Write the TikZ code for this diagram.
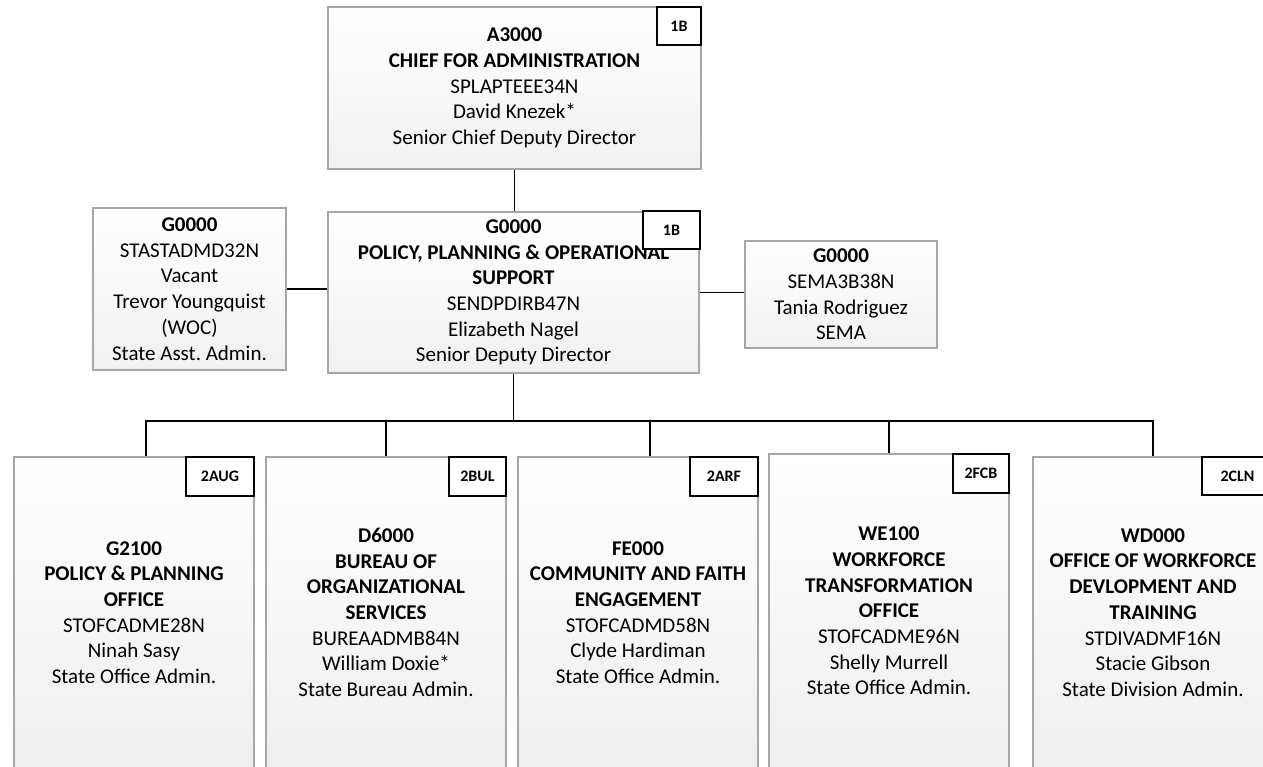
\documentclass[tikz,border=0pt]{standalone}
\usepackage{fontspec}
\setmainfont{Carlito}
\frenchspacing
\begin{document}
\begin{tikzpicture}[x=1pt,y=-1pt,
  box/.style={draw=gray!70, line width=1.1pt, top color=white, bottom color=gray!11,
    inner sep=0pt, align=center, font=\fontsize{21}{25.7}\selectfont},
  lowbox/.style={box, bottom color=gray!13},
  badge/.style={draw=black, line width=1.6pt, fill=white, inner sep=0pt,
    font=\fontsize{16}{19}\selectfont\bfseries},
  conn/.style={draw=black, line width=1.6pt}]
\useasboundingbox (0,0) rectangle (1263,767);
\clip (0,0) rectangle (1263,767);

% top
\node[box, minimum width=373pt, minimum height=162pt] (top) at (514.5,88)
  {\textbf{A3000}\\ \textbf{CHIEF FOR ADMINISTRATION}\\ SPLAPTEEE34N\\ David Knezek*\\ Senior Chief Deputy Director};
\node[badge, minimum width=44pt, minimum height=38pt] (btop) at (679,26) {1B};

% middle
\node[box, minimum width=371pt, minimum height=161pt] (mid) at (513.5,292.5)
  {\textbf{G0000}\\ \textbf{POLICY, PLANNING \& OPERATIONAL}\\ \textbf{SUPPORT}\\ SENDPDIRB47N\\ Elizabeth Nagel\\ Senior Deputy Director};
\node[badge, minimum width=57pt, minimum height=38pt] (bmid) at (671.5,230) {1B};

% left
\node[box, minimum width=193pt, minimum height=162pt] (left) at (189.5,289)
  {\textbf{G0000}\\ STASTADMD32N\\ Vacant\\ Trevor Youngquist\\ (WOC)\\ State Asst. Admin.};

% right
\node[box, minimum width=192pt, minimum height=107pt] (right) at (841,294.5)
  {\textbf{G0000}\\ SEMA3B38N\\ Tania Rodriguez\\ SEMA};

% bottom row
\node[lowbox, minimum width=240pt, minimum height=311pt] (b1) at (134,612.5)
  {\textbf{G2100}\\ \textbf{POLICY \& PLANNING}\\ \textbf{OFFICE}\\ STOFCADME28N\\ Ninah Sasy\\ State Office Admin.};
\node[badge, minimum width=68pt, minimum height=39pt] (bb1) at (220,476.5) {2AUG};

\node[lowbox, minimum width=240pt, minimum height=311pt] (b2) at (386,612.5)
  {\textbf{D6000}\\ \textbf{BUREAU OF}\\ \textbf{ORGANIZATIONAL}\\ \textbf{SERVICES}\\ BUREAADMB84N\\ William Doxie*\\ State Bureau Admin.};
\node[badge, minimum width=57pt, minimum height=39pt] (bb2) at (477.5,476.5) {2BUL};

\node[lowbox, minimum width=240pt, minimum height=311pt] (b3) at (638,612.5)
  {\textbf{FE000}\\ \textbf{COMMUNITY AND FAITH}\\ \textbf{ENGAGEMENT}\\ STOFCADMD58N\\ Clyde Hardiman\\ State Office Admin.};
\node[badge, minimum width=68pt, minimum height=39pt] (bb3) at (724,476.5) {2ARF};

\node[lowbox, minimum width=240pt, minimum height=314pt] (b4) at (889,611)
  {\textbf{WE100}\\ \textbf{WORKFORCE}\\ \textbf{TRANSFORMATION}\\ \textbf{OFFICE}\\ STOFCADME96N\\ Shelly Murrell\\ State Office Admin.};
\node[badge, minimum width=56pt, minimum height=39pt] (bb4) at (981,473.5) {2FCB};

\node[lowbox, minimum width=240pt, minimum height=311pt] (b5) at (1153,612.5)
  {\textbf{WD000}\\ \textbf{OFFICE OF WORKFORCE}\\ \textbf{DEVLOPMENT AND}\\ \textbf{TRAINING}\\ STDIVADMF16N\\ Stacie Gibson\\ State Division Admin.};
\node[badge, minimum width=71pt, minimum height=38pt] (bb5) at (1237.5,476) {2CLN};

% connectors
\draw[conn] (top.south) -- (top.south |- mid.north);
\draw[conn] (left.east) -- (left.east -| mid.west);
\draw[conn] (mid.east) -- (mid.east -| right.west);

\coordinate (bus1) at (146,421);
\coordinate (bus2) at (386,421);
\coordinate (bus3) at (650,421);
\coordinate (bus4) at (889,421);
\coordinate (bus5) at (1153,421);
\coordinate (busm) at (513.5,421);

\draw[conn] (mid.south) -- (busm);
\draw[conn, line cap=rect] (bus1) -- (bus5);
\draw[conn] (bus1) -- (bus1 |- b1.north);
\draw[conn] (bus2) -- (b2.north);
\draw[conn] (bus3) -- (bus3 |- b3.north);
\draw[conn] (bus4) -- (b4.north);
\draw[conn] (bus5) -- (b5.north);
\end{tikzpicture}
\end{document}
